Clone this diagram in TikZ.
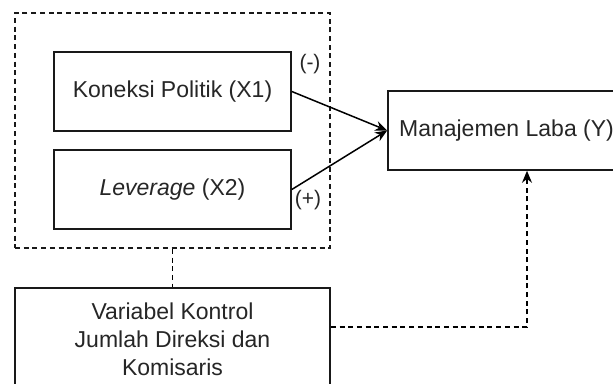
\documentclass[tikz,border=0pt]{standalone}
\usepackage{fontspec}
\setmainfont{Liberation Sans}
\usetikzlibrary{arrows.meta}
\tikzset{
  box/.style={draw=black!90, line width=1.6pt, fill=white, inner sep=0pt, minimum width=237pt, minimum height=79pt, font=\fontsize{23}{28}\selectfont, text=black!85},
  grp/.style={draw=black!90, line width=1.6pt, dash pattern=on 5pt off 3.7pt, inner sep=0pt, minimum width=315pt, minimum height=235pt},
  tip/.style={-{Stealth[length=12pt,width=10pt]}},
  conn/.style={line width=1.5pt, tip},
  dconn/.style={line width=1.5pt, dash pattern=on 5pt off 3.7pt},
  sign/.style={font=\fontsize{21}{24}\selectfont, text=black!85, inner sep=0pt}
}
\begin{document}
\begin{tikzpicture}[x=1pt,y=-1pt]
\useasboundingbox (0,0) rectangle (613,383);
\clip (0,0) rectangle (613,383);
\fill[white] (0,0) rectangle (613,383);
\node[grp] (grp) at (172.5,130.5) {};
\node[box] (x1) at (172.5,91.5) {Koneksi Politik (X1)};
\node[box] (x2) at (172.5,189.5) {\textit{Leverage} (X2)};
\node[box] (y) at (506.5,130.5) {Manajemen Laba (Y)};
\node[box, minimum width=315pt, minimum height=102pt, align=center] (ctl) at (172.5,339) {Variabel Kontrol\\Jumlah Direksi dan\\Komisaris};
\node[sign] (neg) at (310,64) {(-)};
\node[sign] (pos) at (308,200) {(+)};
\draw[conn] (x1.east) -- (y.west);
\draw[conn] (x2.east) -- (y.west);
\draw[dconn] (grp.south) -- (ctl.north);
\draw[dconn, tip] ([yshift=12pt]ctl.east) -| ([xshift=20.5pt]y.south);
\end{tikzpicture}
\end{document}
